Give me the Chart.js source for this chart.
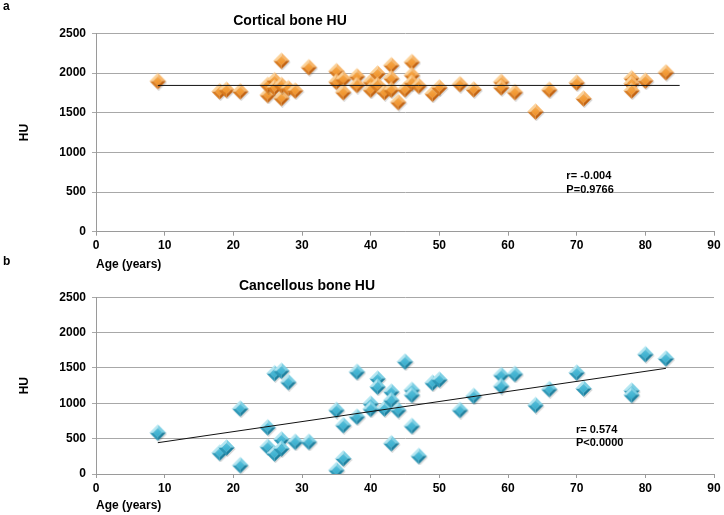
<!DOCTYPE html>
<html><head><meta charset="utf-8">
<script src="https://cdn.jsdelivr.net/npm/chart.js@4.4.0/dist/chart.umd.min.js"></script>
<style>
html,body{margin:0;padding:0;background:#fff;}
#wrap{position:relative;width:724px;height:515px;overflow:hidden;background:#fff;}
canvas{position:absolute;left:0;}
.lbl{position:absolute;font:bold 12px "Liberation Sans",Arial,sans-serif;line-height:12px;color:#000;}
</style></head><body>
<div id="wrap">
<canvas id="c1" width="724" height="275" style="top:0px"></canvas>
<canvas id="c2" width="724" height="240" style="top:275px"></canvas>
<div class="lbl" style="left:3px;top:0px">a</div>
<div class="lbl" style="left:3px;top:255px">b</div>
</div>
<script>
// ---------- data ----------
const xTickValues = [0,10,20,30,40,50,60,70,80,90];
const yTickValues = [0,500,1000,1500,2000,2500];

const cortAge = [9,18,19,21,25,25,26,26,27,27,27,28,29,31,35,35,36,36,38,38,40,40,41,41,42,43,43,43,44,45,46,46,46,47,49,50,53,55,59,59,61,64,66,70,71,78,78,78,80,83];
const cortHU  = [1900,1770,1790,1770,1725,1850,1910,1820,2155,1685,1850,1810,1780,2075,2025,1890,1925,1760,1960,1850,1890,1790,1995,1850,1760,2100,1935,1790,1635,1795,2140,1975,1880,1840,1740,1820,1860,1795,1890,1820,1760,1515,1790,1880,1680,1935,1870,1780,1905,2010];
const cortTrendAge = [9,85];
const cortTrendHU  = [1845,1845];

const cancAge = [9,18,19,21,21,25,25,26,26,27,27,27,28,29,31,35,35,36,36,38,38,40,40,41,41,42,43,43,43,44,45,46,46,46,47,49,50,53,55,59,59,61,64,66,70,71,78,78,80,83];
const cancHU  = [585,300,375,925,125,660,385,1425,290,1460,490,360,1300,455,455,905,55,690,220,1445,810,995,920,1350,1235,925,1165,1045,435,905,1590,1190,1120,680,255,1290,1335,905,1105,1400,1245,1415,975,1200,1435,1210,1180,1120,1695,1635];
const cancTrendAge = [9,83];
const cancTrendHU  = [443,1495];

const cortNotes = ["r= -0.004","P=0.9766"];
const cancNotes = ["r= 0.574","P<0.0000"];

// ---------- styling ----------
const FAM = '"Liberation Sans", Arial, sans-serif';

function makeDiamond(c){
  const s=19, cv=document.createElement('canvas'); cv.width=s; cv.height=s;
  const g=cv.getContext('2d');
  const h=s/2, r=8.2, ir=4.6;
  function poly(pts,col){g.beginPath();g.moveTo(pts[0][0],pts[0][1]);for(let i=1;i<pts.length;i++)g.lineTo(pts[i][0],pts[i][1]);g.closePath();g.fillStyle=col;g.fill();}
  poly([[h+1,h-r+1.5],[h+r+1,h+1.5],[h+1,h+r+1.5],[h-r+1,h+1.5]],'rgba(0,0,0,0.15)');
  const T=[h,h-r],R=[h+r,h],B=[h,h+r],L=[h-r,h];
  const t=[h,h-ir],rr=[h+ir,h],b=[h,h+ir],l=[h-ir,h];
  poly([T,R,rr,t],c.tr); poly([R,B,b,rr],c.br); poly([B,L,l,b],c.bl); poly([L,T,t,l],c.tl);
  const gr=g.createLinearGradient(0,h-ir,0,h+ir); gr.addColorStop(0,c.c1); gr.addColorStop(1,c.c2);
  poly([t,rr,b,l],gr);
  return cv;
}
const orangeImg = makeDiamond({tl:'#fcd197',tr:'#f8b568',br:'#c2610e',bl:'#d97a1e',c1:'#f7a94a',c2:'#ee8f27'});
const cyanImg   = makeDiamond({tl:'#b2e6f2',tr:'#7acfe4',br:'#1b7f9e',bl:'#2b98b8',c1:'#56c0db',c2:'#35abcb'});

const textPlugin = {
  id:'texts',
  afterDraw(chart, args, opts){
    const ctx=chart.ctx; ctx.save(); ctx.fillStyle='#000';
    ctx.font='bold 14px '+FAM; ctx.textAlign='center'; ctx.textBaseline='middle';
    ctx.fillText(opts.title, opts.titleX, opts.titleY);
    ctx.font='bold 11px '+FAM; ctx.textAlign='left';
    const xs=chart.scales.x, ys=chart.scales.y;
    opts.notes.forEach((txt,i)=>ctx.fillText(txt, xs.getPixelForValue(opts.noteX), ys.getPixelForValue(opts.noteY[i])));
    ctx.restore();
  }
};

function build(id, ages, hus, tAge, tHU, img, pad, xHeight, txt){
  return new Chart(document.getElementById(id), {
    type:'scatter',
    data:{datasets:[
      {type:'line', data:tAge.map((a,i)=>({x:a,y:tHU[i]})), borderColor:'#111', borderWidth:1, pointRadius:0, fill:false, tension:0},
      {data:ages.map((a,i)=>({x:a,y:hus[i]})), pointStyle:img, pointRadius:8, pointHoverRadius:8}
    ]},
    options:{
      responsive:false, animation:false, events:[],
      layout:{padding:pad},
      plugins:{legend:{display:false}, tooltip:{enabled:false}, title:{display:false}, texts:txt},
      scales:{
        x:{type:'linear', min:0, max:90,
          afterBuildTicks:s=>{s.ticks=xTickValues.map(v=>({value:v}));},
          afterFit:s=>{s.height=xHeight;},
          grid:{display:true, drawOnChartArea:false, drawTicks:true, tickLength:4, color:'#9a9a9a'},
          border:{display:true, color:'#9a9a9a'},
          ticks:{padding:3, color:'#000', maxRotation:0, font:{family:FAM, size:12, weight:'bold'}, callback:v=>String(v)},
          title:{display:true, text:'Age (years)', align:'start', color:'#000', font:{family:FAM, size:12, weight:'bold'}, padding:{top:3, bottom:0}}
        },
        y:{type:'linear', min:0, max:2500,
          afterBuildTicks:s=>{s.ticks=yTickValues.map(v=>({value:v}));},
          afterFit:s=>{s.width=86;},
          grid:{color:'#a8a8a8', tickLength:4},
          border:{display:true, color:'#9a9a9a'},
          ticks:{padding:6, color:'#000', font:{family:FAM, size:12, weight:'bold'}, callback:v=>String(v)},
          title:{display:true, text:'HU', color:'#000', font:{family:FAM, size:12, weight:'bold'}, padding:{top:7, bottom:0}}
        }
      }
    },
    plugins:[textPlugin]
  });
}

build('c1', cortAge, cortHU, cortTrendAge, cortTrendHU, orangeImg,
  {left:10, top:33.5, right:10, bottom:2.8}, 40.5,
  {title:'Cortical bone HU', titleX:290, titleY:21, notes:cortNotes, noteX:68.5, noteY:[703,527]});
build('c2', cancAge, cancHU, cancTrendAge, cancTrendHU, cyanImg,
  {left:10, top:22.3, right:10, bottom:2.1}, 38.9,
  {title:'Cancellous bone HU', titleX:307, titleY:11, notes:cancNotes, noteX:69.9, noteY:[622,434]});
</script>
</body></html>
